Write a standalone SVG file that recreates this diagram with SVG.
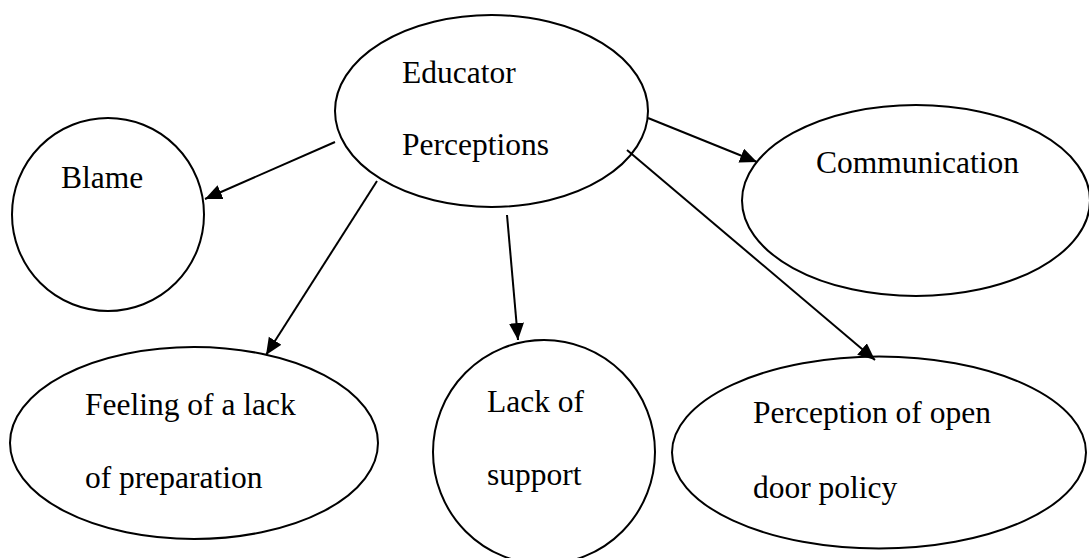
<svg xmlns="http://www.w3.org/2000/svg" width="1089" height="558" viewBox="0 0 1089 558">
<style>
.node ellipse{fill:#fff;stroke:#000;stroke-width:2}
.lbl{font-size:31.5px;fill:#000}
.edge line{stroke:#000;stroke-width:2}
</style>
<defs>
<marker id="arr" markerUnits="userSpaceOnUse" markerWidth="20" markerHeight="16" refX="17" refY="7.5" orient="auto">
<path d="M0,0 L17,7.5 L0,15 Z" fill="#000"/>
</marker>
</defs>
<rect width="1089" height="558" fill="#fff"/>
<g font-family="'Liberation Serif', 'Times New Roman', 'DejaVu Serif', serif">
<g id="educator" class="node">
<ellipse cx="491.5" cy="111" rx="156.5" ry="96"/>
<text class="lbl" x="402" y="83">Educator</text>
<text class="lbl" x="402" y="155">Perceptions</text>
</g>
<g id="blame" class="node">
<ellipse cx="108" cy="214.5" rx="96" ry="96.5"/>
<text class="lbl" x="61" y="188">Blame</text>
</g>
<g id="communication" class="node">
<ellipse cx="916" cy="200.5" rx="174" ry="95.5"/>
<text class="lbl" x="816" y="173">Communication</text>
</g>
<g id="feeling" class="node">
<ellipse cx="194" cy="443" rx="184" ry="96"/>
<text class="lbl" x="85" y="415">Feeling of a lack</text>
<text class="lbl" x="85" y="488">of preparation</text>
</g>
<g id="lack-support" class="node">
<ellipse cx="544" cy="452" rx="111" ry="112"/>
<text class="lbl" x="487" y="412">Lack of</text>
<text class="lbl" x="487" y="485">support</text>
</g>
<g id="open-door" class="node">
<ellipse cx="879" cy="452.5" rx="207" ry="96"/>
<text class="lbl" x="753" y="423">Perception of open</text>
<text class="lbl" x="753" y="498">door policy</text>
</g>
</g>
<g id="connectors" class="edge">
<line x1="335" y1="142" x2="205" y2="199" marker-end="url(#arr)"/>
<line x1="377" y1="181" x2="266" y2="355" marker-end="url(#arr)"/>
<line x1="507" y1="215" x2="518" y2="340" marker-end="url(#arr)"/>
<line x1="648" y1="118" x2="757" y2="162" marker-end="url(#arr)"/>
<line x1="627" y1="150" x2="875" y2="360" marker-end="url(#arr)"/>
</g>
</svg>
